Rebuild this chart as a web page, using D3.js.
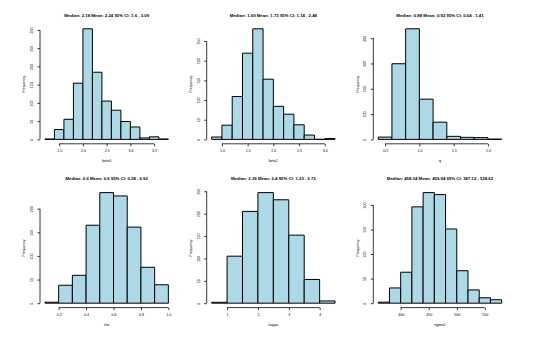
<!DOCTYPE html>
<html>
<head>
<meta charset="utf-8">
<script src="https://cdn.jsdelivr.net/npm/d3@7"></script>
<style>
  body { margin: 0; background: #fff; }
  svg { display: block; font-family: "Liberation Sans", Arial, sans-serif; }
</style>
</head>
<body>
<script>
// posterior histograms, one per parameter
const varNames = ['beta0', 'beta1', 'q', 'rho', 'kappa', 'sigma1'];
const titles = [
  'Median: 2.18 Mean: 2.24 95% CI: 1.6 ,  3.09',
  'Median: 1.69 Mean: 1.73 95% CI: 1.14 ,  2.48',
  'Median: 0.88 Mean: 0.92 95% CI: 0.64 ,  1.41',
  'Median: 0.6 Mean: 0.6 95% CI: 0.28 ,  0.92',
  'Median: 2.39 Mean: 2.4 95% CI: 1.23 ,  3.73',
  'Median: 458.34 Mean: 459.94 95% CI: 387.12 ,  538.62'
];
const binStart = [1.2, 0.8, 0.4, 0.1, 0.5, 360];
const binWidth = [0.2, 0.2, 0.2, 0.1, 0.5, 20];
const counts = [
  [1, 27, 55, 154, 303, 184, 105, 80, 49, 34, 4, 7, 1],
  [6, 36, 109, 219, 281, 153, 84, 64, 37, 11, 0, 2],
  [9, 299, 437, 159, 68, 12, 8, 7, 1],
  [2, 38, 59, 165, 234, 227, 161, 76, 39],
  [2, 105, 205, 247, 231, 152, 53, 5],
  [2, 31, 63, 196, 225, 221, 151, 66, 27, 11, 7]
];
const xTicks = [
  ['1.5', '2.0', '2.5', '3.0', '3.5'],
  ['1.0', '1.5', '2.0', '2.5', '3.0'],
  ['0.5', '1.0', '1.5', '2.0'],
  ['0.2', '0.4', '0.6', '0.8', '1.0'],
  ['1', '2', '3', '4'],
  ['400', '450', '500', '550']
];
const yTicks = [
  [0, 50, 100, 150, 200, 250, 300],
  [0, 50, 100, 150, 200, 250],
  [0, 100, 200, 300, 400],
  [0, 50, 100, 150, 200],
  [0, 50, 100, 150, 200, 250],
  [0, 50, 100, 150, 200]
];

const width = 540, height = 337;
const colLeft = [40, 206.7, 373.3];
const rowTop = [24.4, 188.2];
const plotW = 133.3, plotH = 119.4;

const svg = d3.select('body').append('svg')
  .attr('width', width)
  .attr('height', height);

varNames.forEach((name, i) => {
  const left = colLeft[i % 3];
  const top = rowTop[Math.floor(i / 3)];
  const bottom = top + plotH;
  const c = counts[i];
  const lo = binStart[i];
  const hi = binStart[i] + binWidth[i] * c.length;
  const pad = (hi - lo) * 0.04;
  const maxC = d3.max(c);

  const x = d3.scaleLinear().domain([lo - pad, hi + pad]).range([left, left + plotW]);
  const y = d3.scaleLinear().domain([-0.04 * maxC, 1.04 * maxC]).range([bottom, top]);

  const g = svg.append('g');

  // bars (paths so empty bins still show as a flat line)
  g.selectAll('path.bar')
    .data(c)
    .enter()
    .append('path')
    .attr('class', 'bar')
    .attr('d', (d, j) => {
      const x0 = x(lo + j * binWidth[i]);
      const x1 = x(lo + (j + 1) * binWidth[i]);
      return `M${x0},${y(0)}V${y(d)}H${x1}V${y(0)}Z`;
    })
    .attr('fill', '#add8e6')
    .attr('stroke', '#000')
    .attr('stroke-width', 1);

  // x axis
  const xt = xTicks[i].map(Number);
  const xAxis = g.append('g')
    .attr('transform', `translate(0,${bottom})`)
    .call(d3.axisBottom(x).tickValues(xt).tickSize(2.5).tickFormat((d, k) => xTicks[i][k]));
  xAxis.select('.domain').attr('d', `M${x(xt[0])},0H${x(xt[xt.length - 1])}`);
  xAxis.selectAll('line, .domain').attr('stroke', '#222').attr('stroke-width', 0.9);
  xAxis.selectAll('text')
    .attr('y', 8.3).attr('dy', 0)
    .attr('font-size', 3.6).attr('fill', '#000');

  // y axis
  const yt = yTicks[i];
  const yAxis = g.append('g')
    .attr('transform', `translate(${left},0)`)
    .call(d3.axisLeft(y).tickValues(yt).tickSize(2.5));
  yAxis.select('.domain').attr('d', `M0,${y(yt[0])}V${y(yt[yt.length - 1])}`);
  yAxis.selectAll('line, .domain').attr('stroke', '#222').attr('stroke-width', 0.9);
  yAxis.selectAll('text')
    .attr('x', 0).attr('dy', 0)
    .attr('transform', 'translate(-7,0) rotate(-90)')
    .attr('text-anchor', 'middle')
    .attr('font-size', 3.6).attr('fill', '#000');

  // title and labels
  g.append('text')
    .attr('x', left + plotW / 2)
    .attr('y', top - 7.9)
    .attr('text-anchor', 'middle')
    .attr('font-size', 4.3)
    .attr('font-weight', 'bold')
    .text(titles[i]);

  g.append('text')
    .attr('x', left + plotW / 2)
    .attr('y', bottom + 18.6)
    .attr('text-anchor', 'middle')
    .attr('font-size', 3.6)
    .text(name);

  g.append('text')
    .attr('transform', `translate(${left - 14.7},${top + plotH / 2}) rotate(-90)`)
    .attr('text-anchor', 'middle')
    .attr('font-size', 3.6)
    .text('Frequency');
});
</script>
</body>
</html>
